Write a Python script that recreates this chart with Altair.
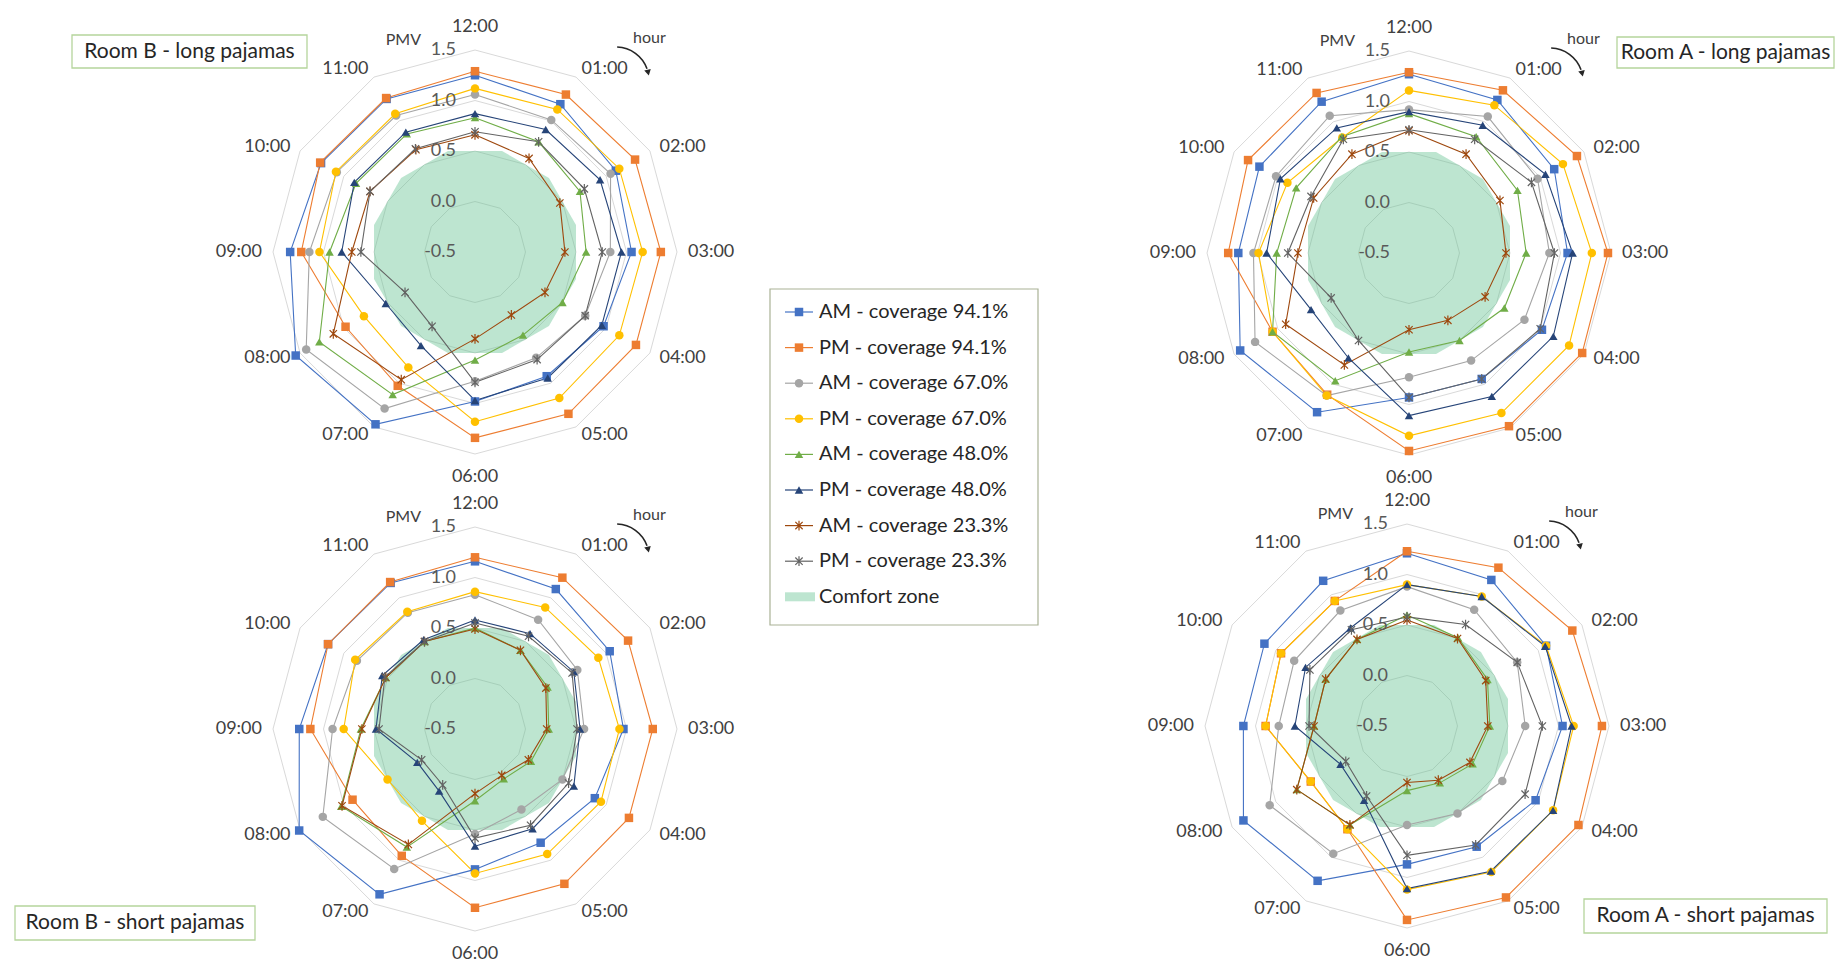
import math
import altair as alt
import pandas as pd

# ---------------- data ----------------
HOURS = ["12:00", "01:00", "02:00", "03:00", "04:00", "05:00",
         "06:00", "07:00", "08:00", "09:00", "10:00", "11:00"]
SERIES = ["AM - coverage 94.1%", "PM - coverage 94.1%",
          "AM - coverage 67.0%", "PM - coverage 67.0%",
          "AM - coverage 48.0%", "PM - coverage 48.0%",
          "AM - coverage 23.3%", "PM - coverage 23.3%"]
PANELS = ["Room B - long pajamas", "Room A - long pajamas",
          "Room B - short pajamas", "Room A - short pajamas"]
TICKS = [-0.5, 0.0, 0.5, 1.0, 1.5]
GRID = [0.0, 0.5, 1.0, 1.5]
COMFORT_LOW, COMFORT_HIGH = -0.5, 0.5

# PMV per hour (12:00, 01:00 ... 11:00)
B_LONG_AM941 = [1.25, 1.19, 1.11, 1.05, 0.97, 0.92, 0.98, 1.47, 1.55, 1.33, 1.26, 1.25]
B_LONG_PM941 = [1.29, 1.30, 1.33, 1.34, 1.34, 1.35, 1.34, 1.03, 0.98, 1.22, 1.27, 1.26]
B_LONG_AM670 = [1.06, 1.01, 1.05, 0.84, 0.76, 0.71, 0.78, 1.29, 1.43, 1.14, 1.08, 1.06]
B_LONG_PM670 = [1.12, 1.13, 1.15, 1.16, 1.15, 1.17, 1.18, 0.82, 0.77, 1.04, 1.09, 1.08]
B_LONG_AM480 = [0.83, 0.76, 0.70, 0.60, 0.50, 0.45, 0.57, 1.13, 1.28, 0.94, 0.86, 0.85]
B_LONG_PM480 = [0.87, 0.90, 0.93, 0.95, 0.95, 0.94, 0.97, 0.57, 0.52, 0.82, 0.88, 0.87]
B_LONG_AM233 = [0.66, 0.57, 0.47, 0.39, 0.30, 0.22, 0.36, 0.96, 1.12, 0.72, 0.70, 0.67]
B_LONG_PM233 = [0.69, 0.76, 0.75, 0.76, 0.76, 0.73, 0.79, 0.35, 0.30, 0.63, 0.70, 0.68]

A_LONG_AM941 = [1.27, 1.25, 1.16, 1.07, 1.02, 0.94, 0.93, 1.32, 1.43, 1.19, 1.21, 1.23]
A_LONG_PM941 = [1.29, 1.36, 1.42, 1.47, 1.48, 1.48, 1.46, 1.12, 1.06, 1.29, 1.34, 1.33]
A_LONG_AM670 = [0.92, 1.06, 0.97, 0.89, 0.82, 0.73, 0.73, 1.13, 1.26, 1.04, 1.02, 1.07]
A_LONG_PM670 = [1.11, 1.19, 1.26, 1.31, 1.33, 1.33, 1.31, 1.13, 1.06, 0.99, 0.89, 0.82]
A_LONG_AM480 = [0.88, 0.83, 0.74, 0.66, 0.59, 0.50, 0.48, 0.96, 1.06, 0.81, 0.79, 0.83]
A_LONG_PM480 = [0.90, 0.96, 1.06, 1.12, 1.15, 1.14, 1.11, 0.70, 0.62, 0.91, 0.97, 0.93]
A_LONG_AM233 = [0.71, 0.63, 0.54, 0.46, 0.37, 0.27, 0.26, 0.78, 0.91, 0.60, 0.59, 0.63]
A_LONG_PM233 = [0.72, 0.80, 0.90, 0.94, 1.00, 0.94, 0.93, 0.50, 0.39, 0.70, 0.62, 0.80]

B_SHORT_AM941 = [1.16, 1.10, 1.04, 0.97, 0.87, 0.80, 0.89, 1.39, 1.51, 1.24, 1.18, 1.17]
B_SHORT_PM941 = [1.20, 1.23, 1.25, 1.26, 1.26, 1.27, 1.27, 0.95, 0.90, 1.13, 1.18, 1.18]
B_SHORT_AM670 = [0.83, 0.75, 0.67, 0.58, 0.50, 0.42, 0.54, 1.10, 1.24, 0.91, 0.85, 0.83]
B_SHORT_PM670 = [0.86, 0.89, 0.91, 0.93, 0.94, 0.93, 0.93, 0.55, 0.50, 0.80, 0.87, 0.84]
B_SHORT_AM480 = [0.50, 0.40, 0.33, 0.23, 0.14, 0.07, 0.21, 0.85, 1.03, 0.63, 0.52, 0.50]
B_SHORT_PM480 = [0.58, 0.59, 0.63, 0.54, 0.63, 0.64, 0.66, 0.21, 0.16, 0.48, 0.56, 0.52]
B_SHORT_AM233 = [0.49, 0.40, 0.31, 0.21, 0.11, 0.03, 0.14, 0.82, 1.02, 0.62, 0.52, 0.50]
B_SHORT_PM233 = [0.55, 0.56, 0.61, 0.51, 0.57, 0.60, 0.58, 0.14, 0.11, 0.45, 0.53, 0.50]

A_SHORT_AM941 = [1.21, 1.17, 1.09, 1.04, 0.97, 0.88, 0.87, 1.27, 1.37, 1.12, 1.13, 1.16]
A_SHORT_PM941 = [1.23, 1.31, 1.39, 1.43, 1.46, 1.46, 1.42, 0.68, 0.60, 0.90, 0.94, 0.93]
A_SHORT_AM670 = [0.88, 0.83, 0.76, 0.67, 0.59, 0.50, 0.48, 0.96, 1.07, 0.77, 0.79, 0.82]
A_SHORT_PM670 = [0.90, 0.98, 1.09, 1.15, 1.17, 1.17, 1.12, 0.68, 0.60, 0.90, 0.94, 0.93]
A_SHORT_AM480 = [0.60, 0.51, 0.42, 0.32, 0.25, 0.15, 0.14, 0.63, 0.76, 0.42, 0.43, 0.49]
A_SHORT_PM480 = [0.90, 0.98, 1.08, 1.13, 1.17, 1.16, 1.11, 0.35, 0.26, 0.61, 0.66, 0.62]
A_SHORT_AM233 = [0.55, 0.50, 0.40, 0.30, 0.22, 0.12, 0.06, 0.63, 0.76, 0.42, 0.43, 0.49]
A_SHORT_PM233 = [0.58, 0.66, 0.76, 0.84, 0.85, 0.86, 0.78, 0.30, 0.20, 0.47, 0.61, 0.60]

PANEL_SERIES = [
    [B_LONG_AM941, B_LONG_PM941, B_LONG_AM670, B_LONG_PM670,
     B_LONG_AM480, B_LONG_PM480, B_LONG_AM233, B_LONG_PM233],
    [A_LONG_AM941, A_LONG_PM941, A_LONG_AM670, A_LONG_PM670,
     A_LONG_AM480, A_LONG_PM480, A_LONG_AM233, A_LONG_PM233],
    [B_SHORT_AM941, B_SHORT_PM941, B_SHORT_AM670, B_SHORT_PM670,
     B_SHORT_AM480, B_SHORT_PM480, B_SHORT_AM233, B_SHORT_PM233],
    [A_SHORT_AM941, A_SHORT_PM941, A_SHORT_AM670, A_SHORT_PM670,
     A_SHORT_AM480, A_SHORT_PM480, A_SHORT_AM233, A_SHORT_PM233],
]

# ---------------- styles / layout ----------------
COLORS = ["#4472C4", "#ED7D31", "#A5A5A5", "#FFC000",
          "#70AD47", "#264478", "#9E480E", "#636363"]
STAR = "M0,-1L0,1M-0.75,-0.75L0.75,0.75M-0.75,0.75L0.75,-0.75"
SHAPES = ["square", "square", "circle", "circle",
          "triangle-up", "triangle-up", STAR, STAR]
FONT = "Lato"
CENTERS = [(475, 252), (1409, 253), (475, 729), (1407, 726)]
UNIT = 101.0          # px per PMV unit
TITLE_BOXES = [(72, 35, 307, 68), (1617, 37, 1834, 68),
               (15, 906, 255, 940), (1584, 899, 1827, 933)]
LEGEND_BOX = (770, 289, 1038, 625)
LEG_Y0, LEG_DY = 312, 35.6
ARROW_C = (141, -172)   # arrow arc centre, relative to the panel centre
ARROW_R = 33
MARK_SIZE = 72
STAR_SIZE = 95

CX = "(datum.p==0?%d:(datum.p==1?%d:(datum.p==2?%d:%d)))" % tuple(c[0] for c in CENTERS)
CY = "(datum.p==0?%d:(datum.p==1?%d:(datum.p==2?%d:%d)))" % tuple(c[1] for c in CENTERS)
RAD = f"((datum.v-({COMFORT_LOW}))*{UNIT})"
ANG = "(datum.k*PI/6)"

XS = alt.Scale(domain=[8, 1835], nice=False, zero=False)
YS = alt.Scale(domain=[8, 967], nice=False, zero=False, reverse=True)


def X(f):
    return alt.X(f"{f}:Q", scale=XS, axis=None)


def Y(f):
    return alt.Y(f"{f}:Q", scale=YS, axis=None)


COLOR = alt.Color("s:N", scale=alt.Scale(domain=SERIES, range=COLORS), legend=None)
SHAPE = alt.Shape("s:N", scale=alt.Scale(domain=SERIES, range=SHAPES), legend=None)

# ---------------- tables ----------------
rows = []
for si in range(len(SERIES)):
    for p, panel in enumerate(PANEL_SERIES):
        vals = panel[si]
        for k in range(13):
            rows.append(dict(p=p, s=SERIES[si], si=si, k=k, v=vals[k % 12], g=f"{p}-{si}"))
sdf = pd.DataFrame(rows)

ring_rows = []
for p in range(4):
    for gv in GRID:
        for k in range(13):
            ring_rows.append(dict(p=p, v=gv, k=k, g=f"{p}-{gv}"))
rdf = pd.DataFrame(ring_rows)

pdf = pd.DataFrame([dict(p=p, v=COMFORT_LOW, k=0, title=PANELS[p],
                         x1=TITLE_BOXES[p][0], y1=TITLE_BOXES[p][1],
                         x2=TITLE_BOXES[p][2], y2=TITLE_BOXES[p][3]) for p in range(4)])

hdf = pd.DataFrame([dict(p=p, k=k, lab=HOURS[k]) for p in range(4) for k in range(12)])
tdf = pd.DataFrame([dict(p=p, v=t, k=0, lab=f"{t:.1f}") for p in range(4) for t in TICKS])
ldf = pd.DataFrame([dict(i=i, s=s) for i, s in enumerate(SERIES)])

# comfort-zone polygon (dodecagon, flat sides towards hour axes)
c15 = math.cos(math.radians(15))
pts = []
for j in range(12):
    a = math.radians(15 + 30 * j)
    pts.append(f"{math.sin(a) / c15:.4f},{-math.cos(a) / c15:.4f}")
COMFORT_PATH = "M" + "L".join(pts) + "Z"
comfort_size = (2 * (COMFORT_HIGH - COMFORT_LOW) * UNIT) ** 2


def polar(ch):
    return ch.transform_calculate(px=f"{CX}+{RAD}*sin({ANG})",
                                  py=f"{CY}-{RAD}*cos({ANG})")


layers = []

# grid rings
layers.append(polar(alt.Chart(rdf).mark_line(color="#d9d9d9", strokeWidth=1)).encode(
    x=X("px"), y=Y("py"), detail="g:N", order="k:Q"))

# comfort zone
layers.append(polar(alt.Chart(pdf).mark_point(
    shape=COMFORT_PATH, size=comfort_size, filled=True, fill="#62c28e",
    fillOpacity=0.42, strokeOpacity=0, opacity=1)).encode(x=X("px"), y=Y("py")))

# series lines
layers.append(polar(alt.Chart(sdf).mark_line(strokeWidth=1.1)).encode(
    x=X("px"), y=Y("py"), color=COLOR, detail="g:N", order="k:Q"))

# markers
layers.append(polar(alt.Chart(sdf).transform_filter("datum.k<12 && datum.si<6").mark_point(
    filled=True, size=MARK_SIZE, opacity=1)).encode(x=X("px"), y=Y("py"), color=COLOR, shape=SHAPE))
layers.append(polar(alt.Chart(sdf).transform_filter("datum.k<12 && datum.si>=6").mark_point(
    filled=False, size=STAR_SIZE, strokeWidth=1.2, opacity=1)).encode(
    x=X("px"), y=Y("py"), color=COLOR, shape=SHAPE))

# hour labels
hbase = alt.Chart(hdf).transform_calculate(
    hx=f"{CX}+{2 * UNIT + 11}*sin({ANG})",
    hy=f"{CY}-(abs(sin({ANG}))<0.01?{2 * UNIT + 23}:{2 * UNIT + 9})*cos({ANG})")
for cond, al in [("datum.k>0 && datum.k<6", "left"),
                 ("datum.k>6", "right"),
                 ("datum.k==0 || datum.k==6", "center")]:
    layers.append(hbase.transform_filter(cond).mark_text(
        align=al, baseline="middle", font=FONT, fontSize=18, color="#404040").encode(
        x=X("hx"), y=Y("hy"), text="lab:N"))

# radial tick labels
layers.append(polar(alt.Chart(tdf)).transform_calculate(tx=f"{CX}-19").mark_text(
    align="right", baseline="middle", font=FONT, fontSize=18, color="#595959").encode(
    x=X("tx"), y=Y("py"), text="lab:N"))

# PMV / hour captions and curved arrow
head_ang = math.radians(77)
deco = alt.Chart(pdf).transform_calculate(
    pmvx=f"{CX}-54", pmvy=f"{CY}-212",
    hrx=f"{CX}+158", hry=f"{CY}-214",
    acx=f"{CX}+{ARROW_C[0]}", acy=f"{CY}+({ARROW_C[1]})",
    ahx=f"{CX}+{ARROW_C[0]}+{ARROW_R}*{math.sin(head_ang):.4f}",
    ahy=f"{CY}+({ARROW_C[1]})-{ARROW_R}*{math.cos(head_ang):.4f}")
layers.append(deco.mark_text(text="PMV", align="right", baseline="middle", font=FONT,
                             fontSize=16, color="#404040").encode(x=X("pmvx"), y=Y("pmvy")))
layers.append(deco.mark_text(text="hour", align="left", baseline="middle", font=FONT,
                             fontSize=16, color="#404040").encode(x=X("hrx"), y=Y("hry")))
layers.append(deco.mark_arc(radius=ARROW_R - 0.8, radius2=ARROW_R + 0.8,
                            theta=math.radians(2), theta2=math.radians(70),
                            color="#262626").encode(x=X("acx"), y=Y("acy")))
layers.append(deco.mark_point(shape="triangle-up", angle=167, filled=True, size=45,
                              opacity=1, color="#262626").encode(x=X("ahx"), y=Y("ahy")))

# panel title boxes
layers.append(alt.Chart(pdf).mark_rect(fill="white", stroke="#b5d59c", strokeWidth=1.3).encode(
    x=X("x1"), x2="x2:Q", y=Y("y1"), y2="y2:Q"))
layers.append(alt.Chart(pdf).transform_calculate(
    tx="(datum.x1+datum.x2)/2", ty="(datum.y1+datum.y2)/2").mark_text(
    align="center", baseline="middle", font=FONT, fontSize=21, color="#262626").encode(
    x=X("tx"), y=Y("ty"), text="title:N"))

# legend
lb = pd.DataFrame([dict(x1=LEGEND_BOX[0], y1=LEGEND_BOX[1], x2=LEGEND_BOX[2], y2=LEGEND_BOX[3])])
layers.append(alt.Chart(lb).mark_rect(fill="white", stroke="#aab296", strokeWidth=1.2).encode(
    x=X("x1"), x2="x2:Q", y=Y("y1"), y2="y2:Q"))
leg = alt.Chart(ldf).transform_calculate(
    ly=f"{LEG_Y0}+{LEG_DY}*datum.i", lx1="785", lx2="813", mx="799", tx="819")
layers.append(leg.mark_rule(strokeWidth=1.2).encode(
    x=X("lx1"), x2="lx2:Q", y=Y("ly"), color=COLOR))
layers.append(leg.transform_filter("datum.i<6").mark_point(
    filled=True, size=MARK_SIZE, opacity=1).encode(
    x=X("mx"), y=Y("ly"), color=COLOR, shape=SHAPE))
layers.append(leg.transform_filter("datum.i>=6").mark_point(
    filled=False, size=STAR_SIZE, strokeWidth=1.2, opacity=1).encode(
    x=X("mx"), y=Y("ly"), color=COLOR, shape=SHAPE))
layers.append(leg.mark_text(align="left", baseline="middle", font=FONT, fontSize=20,
                            color="#262626").encode(x=X("tx"), y=Y("ly"), text="s:N"))
cz = pd.DataFrame([dict(i=len(SERIES), s="Comfort zone")])
czc = alt.Chart(cz).transform_calculate(
    ly=f"{LEG_Y0}+{LEG_DY}*datum.i", ly1=f"{LEG_Y0}+{LEG_DY}*datum.i-4.5",
    ly2=f"{LEG_Y0}+{LEG_DY}*datum.i+4.5", lx1="785", lx2="815", tx="819")
layers.append(czc.mark_rect(fill="#62c28e", fillOpacity=0.42).encode(
    x=X("lx1"), x2="lx2:Q", y=Y("ly1"), y2="ly2:Q"))
layers.append(czc.mark_text(align="left", baseline="middle", font=FONT, fontSize=20,
                            color="#262626").encode(x=X("tx"), y=Y("ly"), text="s:N"))

chart = alt.layer(*layers).properties(
    width=1827, height=959, padding=0, background="white",
    autosize=alt.AutoSizeParams(type="none"),
).configure_view(stroke=None)

chart.save("out.html", embed_options={"renderer": "svg", "actions": False})
